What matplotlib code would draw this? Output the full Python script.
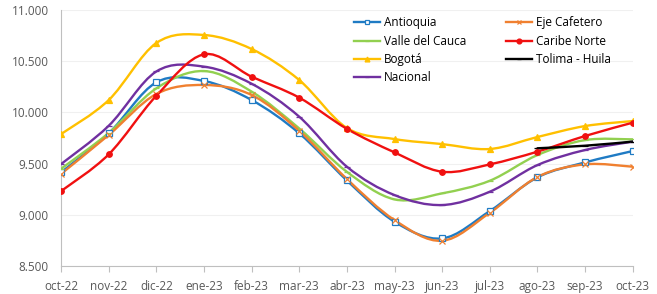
import numpy as np
import matplotlib.pyplot as plt
from matplotlib.path import Path
from matplotlib.patches import PathPatch
from matplotlib.lines import Line2D

plt.rcParams['font.family'] = ['Open Sans', 'DejaVu Sans']

meses = ['oct-22', 'nov-22', 'dic-22', 'ene-23', 'feb-23', 'mar-23', 'abr-23',
         'may-23', 'jun-23', 'jul-23', 'ago-23', 'sep-23', 'oct-23']

antioquia = [9415, 9796, 10294, 10307, 10121, 9796, 9336, 8933, 8770, 9037, 9366, 9512, 9623]
eje_cafetero = [9400, 9780, 10180, 10268, 10170, 9820, 9350, 8949, 8747, 9020, 9370, 9493, 9470]
valle = [9450, 9800, 10235, 10404, 10203, 9843, 9420, 9151, 9210, 9333, 9584, 9730, 9737]
caribe = [9232, 9591, 10163, 10567, 10349, 10144, 9840, 9610, 9421, 9493, 9617, 9770, 9900]
bogota = [9789, 10121, 10678, 10756, 10619, 10316, 9848, 9740, 9691, 9643, 9760, 9867, 9916]
tolima = [None] * 10 + [9650, 9675, 9715]
nacional = [9496, 9870, 10400, 10447, 10280, 9958, 9470, 9193, 9096, 9226, 9486, 9633, 9715]

series = [
    ('Antioquia', antioquia, '#1F7BC4', 's', 'white'),
    ('Valle del Cauca', valle, '#92D050', '_', None),
    ('Bogotá', bogota, '#FFC000', '^', None),
    ('Nacional', nacional, '#7030A0', '_', None),
    ('Eje Cafetero', eje_cafetero, '#F08030', 'x', None),
    ('Caribe Norte', caribe, '#F01010', 'o', None),
    ('Tolima - Huila', tolima, '#000000', '_', None),
]


def smooth_path(xs, ys):
    # Bezier segments like Excel's smoothed lines
    pts = np.column_stack([xs, ys]).astype(float)
    verts = [pts[0]]
    codes = [Path.MOVETO]
    n = len(pts)
    for i in range(n - 1):
        p0 = pts[i - 1] if i > 0 else pts[i]
        p1 = pts[i]
        p2 = pts[i + 1]
        p3 = pts[i + 2] if i + 2 < n else pts[i + 1]
        c1 = p1 + (p2 - p0) / 6.0
        c2 = p2 - (p3 - p1) / 6.0
        verts += [c1, c2, p2]
        codes += [Path.CURVE4] * 3
    return Path(verts, codes)


fig = plt.figure(figsize=(6.57, 2.94), dpi=100)
ax = fig.add_axes([0.093, 0.095, 0.870, 0.871])

x = np.arange(len(meses))
handles = []
for nombre, vals, color, mk, mfc in series:
    idx = [i for i, v in enumerate(vals) if v is not None]
    xs = x[idx]
    ys = [vals[i] for i in idx]
    ax.add_patch(PathPatch(smooth_path(xs, ys), fill=False, edgecolor=color,
                           lw=1.7, zorder=3, capstyle='round'))
    ax.plot(xs, ys, linestyle='none', marker=mk, color=color,
            markerfacecolor=mfc if mfc else color,
            markersize=4 if mk != '_' else 4.5,
            markeredgewidth=0.9, zorder=4)
    handles.append(Line2D([0], [0], color=color, lw=1.7, marker=mk,
                          markerfacecolor=mfc if mfc else color, markersize=3.5,
                          markeredgewidth=0.9))

ax.set_xlim(0, len(meses) - 1)
ax.set_ylim(8500, 11000)
ax.set_yticks(np.arange(8500, 11001, 500))
ax.set_yticklabels([f'{v:,.0f}'.replace(',', '.') for v in np.arange(8500, 11001, 500)])
ax.set_xticks(x)
ax.set_xticklabels(meses)
ax.grid(axis='y', color='#F0F0F0', lw=0.8)
ax.set_axisbelow(True)
for s in ['top', 'right']:
    ax.spines[s].set_visible(False)
for s in ['left', 'bottom']:
    ax.spines[s].set_color('#BFBFBF')
ax.tick_params(axis='y', length=0, labelsize=8.5, colors='#595959', pad=9)
ax.tick_params(axis='x', length=4, color='#BFBFBF', labelsize=8.5,
               labelcolor='#595959', pad=6)

leg = ax.legend(handles, [s[0] for s in series], ncol=2, loc='upper left',
                bbox_to_anchor=(0.513, 0.975), frameon=False, fontsize=8.5,
                handlelength=2.2, handletextpad=0.3, columnspacing=3.4,
                labelspacing=0.45, borderaxespad=0, borderpad=0)

fig.savefig('out.png', dpi=100)
